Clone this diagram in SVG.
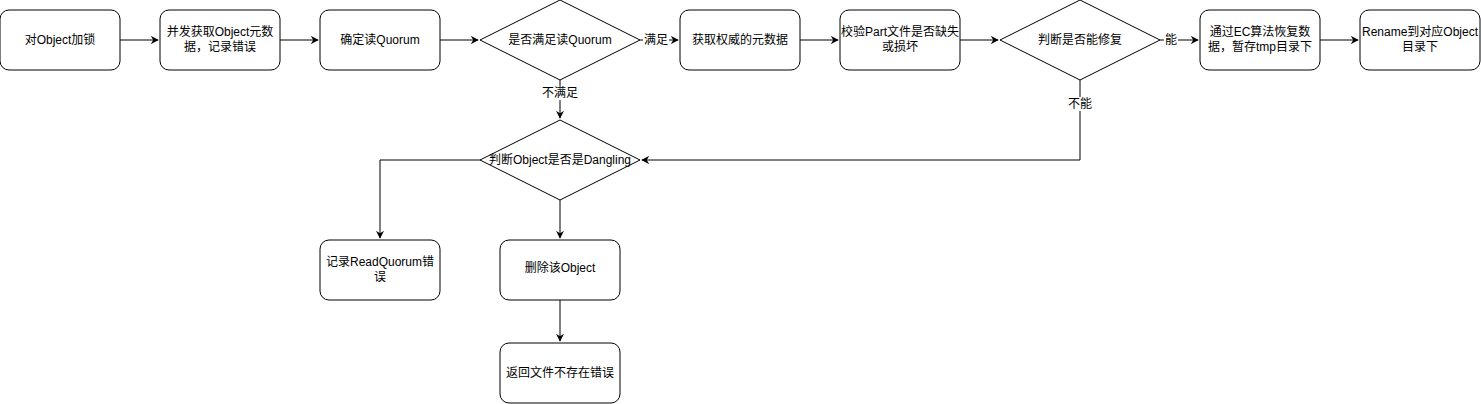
<svg xmlns="http://www.w3.org/2000/svg" width="1481" height="404" viewBox="0 0 1481 404">
<defs>
<style>
.n{fill:#fff;stroke:#000;stroke-width:1}
.t{font-family:"Liberation Sans","Noto Sans CJK SC",sans-serif;font-size:12px;fill:#000;text-anchor:middle;dominant-baseline:central}
.e{fill:none;stroke:#000;stroke-width:1}
.lb{fill:#fff}
</style>
<marker id="a" viewBox="0 0 10 10" refX="9" refY="5" markerWidth="8" markerHeight="8" markerUnits="userSpaceOnUse" orient="auto">
<path d="M0,0 L10,5 L0,10 L3,5 Z" fill="#000"/>
</marker>
</defs>
<rect width="1481" height="404" fill="#fff"/>
<g id="connectors">
<path class="e" d="M120,40 H158" marker-end="url(#a)"/>
<path class="e" d="M280,40 H318" marker-end="url(#a)"/>
<path class="e" d="M440,40 H478" marker-end="url(#a)"/>
<path class="e" d="M640,40 H678" marker-end="url(#a)"/>
<path class="e" d="M800,40 H838" marker-end="url(#a)"/>
<path class="e" d="M960,40 H998" marker-end="url(#a)"/>
<path class="e" d="M1160,40 H1198" marker-end="url(#a)"/>
<path class="e" d="M1320,40 H1358" marker-end="url(#a)"/>
<path class="e" d="M560,80 V118" marker-end="url(#a)"/>
<path class="e" d="M1080,80 V160 H642" marker-end="url(#a)"/>
<path class="e" d="M480,160 H380 V238" marker-end="url(#a)"/>
<path class="e" d="M560,200 V238" marker-end="url(#a)"/>
<path class="e" d="M560,300 V341" marker-end="url(#a)"/>
<rect class="lb" x="643" y="33" width="26" height="14"/>
<text class="t" x="656" y="40">满足</text>
<rect class="lb" x="1164" y="33" width="14" height="14"/>
<text class="t" x="1171" y="40">能</text>
<rect class="lb" x="542" y="86" width="36" height="14"/>
<text class="t" x="560" y="93">不满足</text>
<rect class="lb" x="1068" y="97" width="24" height="14"/>
<text class="t" x="1080" y="104">不能</text>
</g>
<g id="n1"><rect class="n" x="0" y="10" width="120" height="60" rx="9"/><text class="t" x="60" y="40">对Object加锁</text></g>
<g id="n2"><rect class="n" x="160" y="10" width="120" height="60" rx="9"/><text class="t" x="220" y="32">并发获取Object元数</text><text class="t" x="220" y="47">据，记录错误</text></g>
<g id="n3"><rect class="n" x="320" y="10" width="120" height="60" rx="9"/><text class="t" x="380" y="40">确定读Quorum</text></g>
<g id="d1"><path class="n" d="M560,0 L640,40 L560,80 L480,40 Z" stroke-linejoin="round"/><text class="t" x="560" y="40">是否满足读Quorum</text></g>
<g id="n4"><rect class="n" x="680" y="10" width="120" height="60" rx="9"/><text class="t" x="740" y="40">获取权威的元数据</text></g>
<g id="n5"><rect class="n" x="840" y="10" width="120" height="60" rx="9"/><text class="t" x="900" y="32">校验Part文件是否缺失</text><text class="t" x="900" y="47">或损坏</text></g>
<g id="d2"><path class="n" d="M1080,0 L1160,40 L1080,80 L1000,40 Z" stroke-linejoin="round"/><text class="t" x="1080" y="40">判断是否能修复</text></g>
<g id="n6"><rect class="n" x="1200" y="10" width="120" height="60" rx="9"/><text class="t" x="1260" y="32">通过EC算法恢复数</text><text class="t" x="1260" y="47">据，暂存tmp目录下</text></g>
<g id="n7"><rect class="n" x="1360" y="10" width="120" height="60" rx="9"/><text class="t" x="1420" y="32">Rename到对应Object</text><text class="t" x="1420" y="47">目录下</text></g>
<g id="d3"><path class="n" d="M560,120 L640,160 L560,200 L480,160 Z" stroke-linejoin="round"/><text class="t" x="560" y="160">判断Object是否是Dangling</text></g>
<g id="n8"><rect class="n" x="320" y="240" width="120" height="60" rx="9"/><text class="t" x="380" y="262">记录ReadQuorum错</text><text class="t" x="380" y="277">误</text></g>
<g id="n9"><rect class="n" x="500" y="240" width="120" height="60" rx="9"/><text class="t" x="560" y="268">删除该Object</text></g>
<g id="n10"><rect class="n" x="500" y="343" width="120" height="60" rx="9"/><text class="t" x="560" y="373">返回文件不存在错误</text></g>
</svg>
